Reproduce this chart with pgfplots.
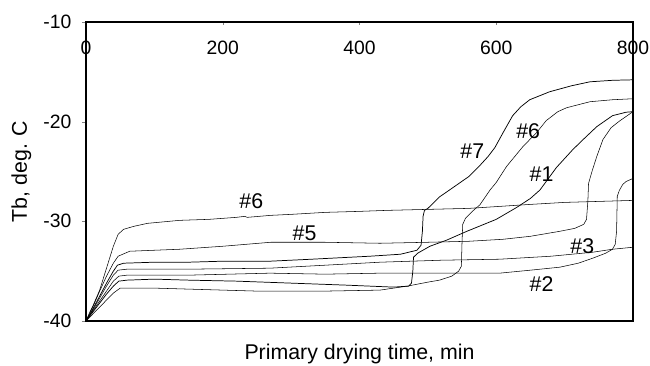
\documentclass[border=0pt]{standalone}
\usepackage{pgfplots}
\pgfplotsset{compat=1.18}
\usepackage{fontspec}
\setmainfont{Liberation Sans}
\begin{document}
\begin{tikzpicture}
\path[use as bounding box] (-64.5pt,-33pt) rectangle (423pt,240.75pt);
\begin{axis}[
  at={(0,0)}, anchor=south west, scale only axis,
  width=410.25pt, height=224.25pt,
  xmin=0, xmax=800, ymin=-40, ymax=-10,
  xtick={0,200,400,600,800}, xticklabels={0,200,400,600,800},
  ytick={-40,-30,-20,-10}, yticklabels={-40,-30,-20,-10},
  xtick pos=upper, xticklabel pos=upper, ytick pos=left,
  tick align=inside, major tick length=2.5pt,
  ytick style={xshift=-3pt},
  xticklabel style={anchor=center, yshift=-19.1pt, font=\fontsize{14.5}{16}\selectfont},
  yticklabel style={anchor=east, inner sep=0pt, xshift=-10.75pt, font=\fontsize{14.5}{16}\selectfont},
  axis line style={black, line width=1pt},
  xlabel={Primary drying time, min},
  ylabel={Tb, deg. C},
  xlabel style={at={(axis description cs:0.5,-0.1304)}, anchor=base, font=\fontsize{16}{18}\selectfont},
  ylabel style={at={(axis description cs:-0.1079,0.5)}, anchor=base, font=\fontsize{16}{18}\selectfont},
  cycle list={{black, no markers, line width=0.55pt}},
]
% A (#6, top plateau)
\addplot coordinates {(0,-40) (5,-39.2) (10,-38.5) (20,-36.9) (30,-34.7) (40,-32.5) (47,-31.3) (55,-30.8) (70,-30.5) (90,-30.2) (137,-29.9) (180,-29.8) (220,-29.6) (232,-29.5) (236,-29.6) (270,-29.4) (300,-29.3) (350,-29.1) (400,-29.0) (440,-28.9) (500,-28.8) (560,-28.7) (605,-28.5) (650,-28.3) (700,-28.1) (750,-28.0) (800,-27.9)};
% B (#5)
\addplot coordinates {(0,-40) (10,-38.6) (20,-37.0) (30,-35.5) (40,-34.2) (47,-33.5) (64,-33.0) (100,-32.9) (137,-32.8) (200,-32.5) (270,-32.1) (350,-32.1) (430,-32.2) (500,-32.1) (560,-32.0) (610,-31.8) (650,-31.5) (693,-31.0) (715,-30.7) (728,-30.3) (732,-29.8) (734,-28.0) (735,-26.2) (740,-25.0) (747,-23.5) (756,-21.8) (768,-20.6) (781,-19.9) (800,-19.0)};
% #7
\addplot coordinates {(0,-40) (10,-38.8) (20,-37.5) (30,-36.2) (40,-35.0) (46,-34.4) (55,-34.2) (100,-34.1) (150,-34.1) (200,-34.0) (269,-34.0) (330,-33.8) (415,-33.5) (460,-33.3) (484,-32.9) (490,-32.4) (492,-31.0) (493,-29.5) (495,-28.9) (500,-28.7) (517,-27.55) (537,-26.6) (560,-25.5) (576,-24.4) (588,-23.5) (598,-22.6) (610,-21.1) (624,-19.4) (636,-18.5) (649,-17.8) (678,-17.0) (710,-16.4) (737,-16.0) (770,-15.85) (800,-15.8)};
% #3
\addplot coordinates {(0,-40) (10,-38.9) (20,-37.7) (30,-36.5) (40,-35.4) (47,-34.9) (60,-34.8) (150,-34.8) (269,-34.7) (350,-34.4) (430,-34.1) (520,-33.9) (605,-33.8) (680,-33.5) (741,-33.1) (770,-32.8) (800,-32.6)};
% #2
\addplot coordinates {(0,-40) (10,-39.0) (20,-38.0) (30,-37.0) (40,-36.0) (48,-35.5) (60,-35.4) (150,-35.4) (269,-35.2) (350,-35.3) (430,-35.2) (520,-35.2) (605,-35.2) (650,-34.9) (693,-34.6) (720,-34.2) (741,-33.7) (760,-33.2) (770,-32.8) (774,-32.3) (776,-31.0) (777,-27.5) (780,-26.9) (785,-26.3) (790,-26.0) (800,-25.7)};
% #1
\addplot coordinates {(0,-40) (10,-39.1) (20,-38.2) (30,-37.3) (40,-36.5) (48,-36.0) (60,-35.9) (100,-35.8) (150,-35.9) (220,-36.0) (300,-36.2) (380,-36.4) (450,-36.6) (472,-36.5) (476,-36.2) (478,-35.0) (479,-33.6) (485,-33.2) (503,-32.5) (527,-31.9) (557,-31.0) (600,-29.8) (630,-28.6) (650,-27.7) (664,-26.85) (688,-24.6) (712,-22.8) (727,-21.8) (747,-20.5) (770,-19.4) (790,-19.05) (800,-19.0)};
% #6 (rising)
\addplot coordinates {(0,-40) (10,-39.3) (20,-38.6) (30,-37.9) (40,-37.2) (50,-36.7) (100,-36.7) (150,-36.8) (250,-37.0) (350,-37.0) (430,-36.9) (470,-36.5) (500,-36.1) (517,-35.9) (535,-35.5) (545,-35.0) (549,-34.5) (550,-32.0) (551,-30.3) (555,-29.7) (565,-29.0) (576,-28.35) (591,-26.85) (600,-26.1) (615,-24.5) (639,-22.5) (659,-21.1) (673,-19.9) (690,-19.0) (703,-18.6) (737,-18.0) (770,-17.8) (800,-17.7)};
\begin{scope}[every node/.style={inner sep=0pt, font=\fontsize{16}{18}\selectfont}]
\node at (axis cs:241.7,-28.02) {\#6};
\node at (axis cs:319.7,-31.2) {\#5};
\node at (axis cs:565,-23.0) {\#7};
\node at (axis cs:646.7,-21.0) {\#6};
\node at (axis cs:666.2,-25.26) {\#1};
\node at (axis cs:725.9,-32.54) {\#3};
\node at (axis cs:666.2,-36.3) {\#2};
\end{scope}
\end{axis}
\end{tikzpicture}
\end{document}
